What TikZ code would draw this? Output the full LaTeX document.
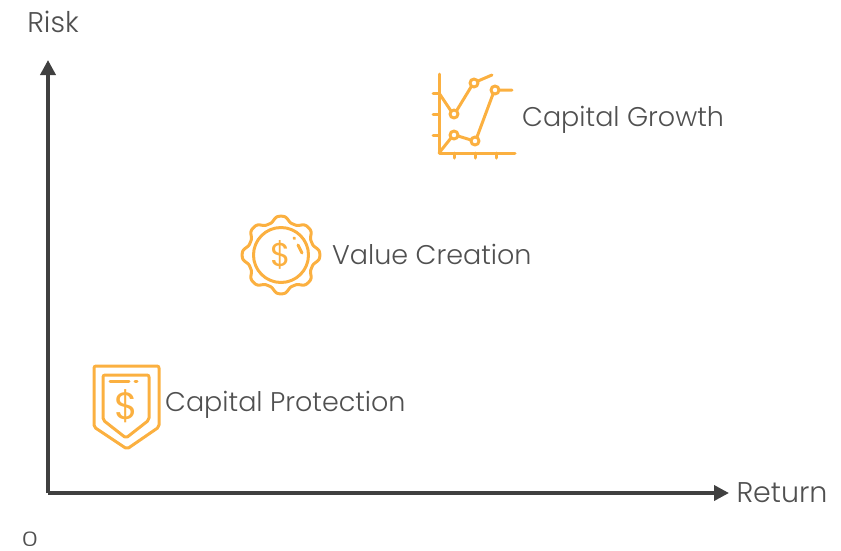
\documentclass[tikz,border=0pt]{standalone}
\usepackage{fontspec}
\setmainfont{Poppins}[UprightFont=* Light]
\newfontfamily\signfont{Poppins}
\usetikzlibrary{arrows.meta}
\definecolor{axisgray}{HTML}{404040}
\definecolor{textgray}{HTML}{505050}
\definecolor{iconorange}{HTML}{FBB040}
\tikzset{
  declare function={gearr(\t)=cos(8*\t)*(1.5-0.5*cos(8*\t)*cos(8*\t));},
  axisline/.style={line width=3.6pt,axisgray,-{Triangle[length=15pt,width=15pt]}},
  iconline/.style={line width=3pt,iconorange,line join=round,line cap=round},
  lbl/.style={font=\fontsize{27}{30}\selectfont,textgray,inner sep=0pt},
  axislbl/.style={font=\fontsize{28.5}{32}\selectfont,textgray,inner sep=0pt},
  dollar/.style={font=\signfont\fontsize{33}{36}\selectfont,iconorange,inner sep=0pt}
}
\begin{document}
\begin{tikzpicture}[x=1pt,y=-1pt]
\useasboundingbox (0,0) rectangle (841,550);
% axes
\coordinate (origin) at (48,493);
\coordinate (risktop) at (48,60);
\coordinate (returnend) at (729,493);
\draw[axisline] (origin)--(risktop);
\draw[axisline] (origin)--(returnend);
\node[axislbl] (risk) at (53,22) {Risk};
\node[axislbl] (return) at (782,493) {Return};
\node[lbl,font=\fontsize{20}{22}\selectfont,xscale=1.35] (zero) at (30,539) {0};
% capital growth
\draw[iconline] (439,74)--(439,153)--(515,153);
\draw[iconline] (433,93)--(439,93) (433,114)--(439,114) (433,135)--(439,135);
\draw[iconline] (454,153)--(454,158) (475,153)--(475,158) (496,153)--(496,158);
\draw[iconline] (439,93)--(451,111) (457,110)--(471,87) (478,81)--(492,75);
\draw[iconline] (439,153)--(451,138) (458,136)--(471,140) (477,137)--(493,94) (499,90)--(512,90);
\foreach \x/\y in {454/114,474/83,454/135,475/141,495/90}
  \draw[iconline] (\x,\y) circle (4);
\node[lbl,anchor=west] (growth) at (522,120) {Capital Growth};
% value creation
\draw[iconline,smooth] plot[domain=0:360,samples=145] ({281+(36+2.8*gearr(\x))*cos(\x)},{255+(36+2.8*gearr(\x))*sin(\x)}) -- cycle;
\draw[iconline] (281,255) circle (27.5);
\draw[iconline] (298,245)--(302,253);
\draw[iconline] (294,238)--(294.5,238.5);
\node[dollar] (valuesign) at (281,255) {\$};
\node[lbl,anchor=west] (value) at (332,254) {Value Creation};
% capital protection
\draw[iconline,rounded corners=2pt] (94,366)--(159,366)--(159,427)--(127,449)--(94,427)--cycle;
\draw[iconline,rounded corners=2pt] (103,375)--(149,375)--(149,420)--(126,438)--(103,420)--cycle;
\draw[iconline] (110,381)--(129,381) (135,381)--(137,381);
\node[dollar,font=\signfont\fontsize{38}{40}\selectfont] (shieldsign) at (126,406) {\$};
\node[lbl,anchor=west] (protection) at (165,405) {Capital Protection};
\end{tikzpicture}
\end{document}
